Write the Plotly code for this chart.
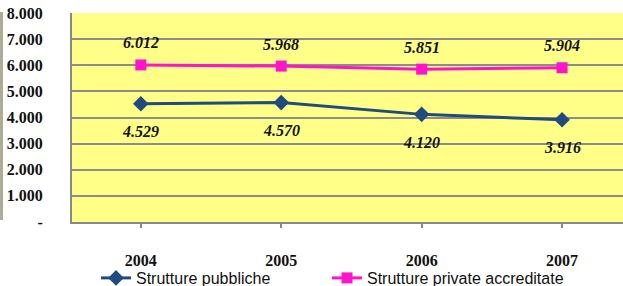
import plotly.graph_objects as go

years = ["2004", "2005", "2006", "2007"]
pubbliche = [4529, 4570, 4120, 3916]
private = [6012, 5968, 5851, 5904]
pub_labels = ["4.529", "4.570", "4.120", "3.916"]
priv_labels = ["6.012", "5.968", "5.851", "5.904"]
y_ticks = [0, 1000, 2000, 3000, 4000, 5000, 6000, 7000, 8000]
y_tick_text = ["-", "1.000", "2.000", "3.000", "4.000", "5.000", "6.000", "7.000", "8.000"]

BLUE = "#214A7E"
PINK = "#FF14CC"
SERIF = "Liberation Serif"
SANS = "Liberation Sans"

idx = list(range(len(years)))

fig = go.Figure()
fig.add_trace(go.Scatter(
    x=idx, y=pubbliche, mode="lines+markers", name="Strutture pubbliche",
    line=dict(color=BLUE, width=3),
    marker=dict(symbol="diamond", size=12, color=BLUE),
    legend="legend",
))
fig.add_trace(go.Scatter(
    x=idx, y=private, mode="lines+markers", name="Strutture private accreditate",
    line=dict(color=PINK, width=3),
    marker=dict(symbol="square", size=11, color=PINK),
    legend="legend2",
))

label_font = dict(family=SERIF, size=16, color="#111111")
annotations = []
for i, v, t in zip(idx, private, priv_labels):
    annotations.append(dict(x=i, y=v, text="<b><i>" + t + "</i></b>", showarrow=False,
                            yshift=22, font=label_font))
for i, v, t in zip(idx, pubbliche, pub_labels):
    annotations.append(dict(x=i, y=v, text="<b><i>" + t + "</i></b>", showarrow=False,
                            yshift=-28, font=label_font))

plot_w = 623 - 72
plot_h = 222 - 13
leg_y = (222 - 278) / plot_h
leg_font = dict(family=SANS, size=16, color="#111111")
fig.update_layout(
    width=623, height=286,
    margin=dict(l=72, r=0, t=13, b=64, autoexpand=False),
    paper_bgcolor="white",
    plot_bgcolor="#FFFF88",
    showlegend=True,
    legend=dict(x=(96 - 72) / plot_w, xanchor="left", y=leg_y, yanchor="middle",
                font=leg_font, bgcolor="rgba(0,0,0,0)", borderwidth=0),
    legend2=dict(x=(327 - 72) / plot_w, xanchor="left", y=leg_y, yanchor="middle",
                 font=leg_font, bgcolor="rgba(0,0,0,0)", borderwidth=0),
    annotations=annotations,
    shapes=[dict(type="rect", xref="paper", yref="paper",
                 x0=-72 / plot_w, x1=-69 / plot_w, y0=(222 - 220) / plot_h, y1=(222 - 12) / plot_h,
                 fillcolor="#ADAD96", line=dict(width=0), layer="below")],
)
fig.update_xaxes(
    range=[-0.49, 3.434], tickvals=idx, ticktext=["<b>" + y + "</b>" for y in years],
    showgrid=False, showline=True, linecolor="#888888", linewidth=2, zeroline=False,
    ticks="outside", ticklen=4, tickcolor="#888888", tickwidth=1.5,
    tickfont=dict(family=SERIF, size=16, color="#111111"),
    ticklabelstandoff=19,
)
fig.update_yaxes(
    range=[0, 8000], tickvals=y_ticks, ticktext=["<b>" + t + "</b>" for t in y_tick_text],
    showgrid=True, gridcolor="#8C8C8C", gridwidth=1.5,
    showline=True, linecolor="#888888", linewidth=2,
    zeroline=False, ticks="", ticklabelstandoff=24,
    tickfont=dict(family=SERIF, size=16, color="#111111"),
)

fig.write_html(
    "out.html",
    config={"displayModeBar": False},
    post_script="document.body.style.margin='0';document.body.style.overflow='hidden';",
)
